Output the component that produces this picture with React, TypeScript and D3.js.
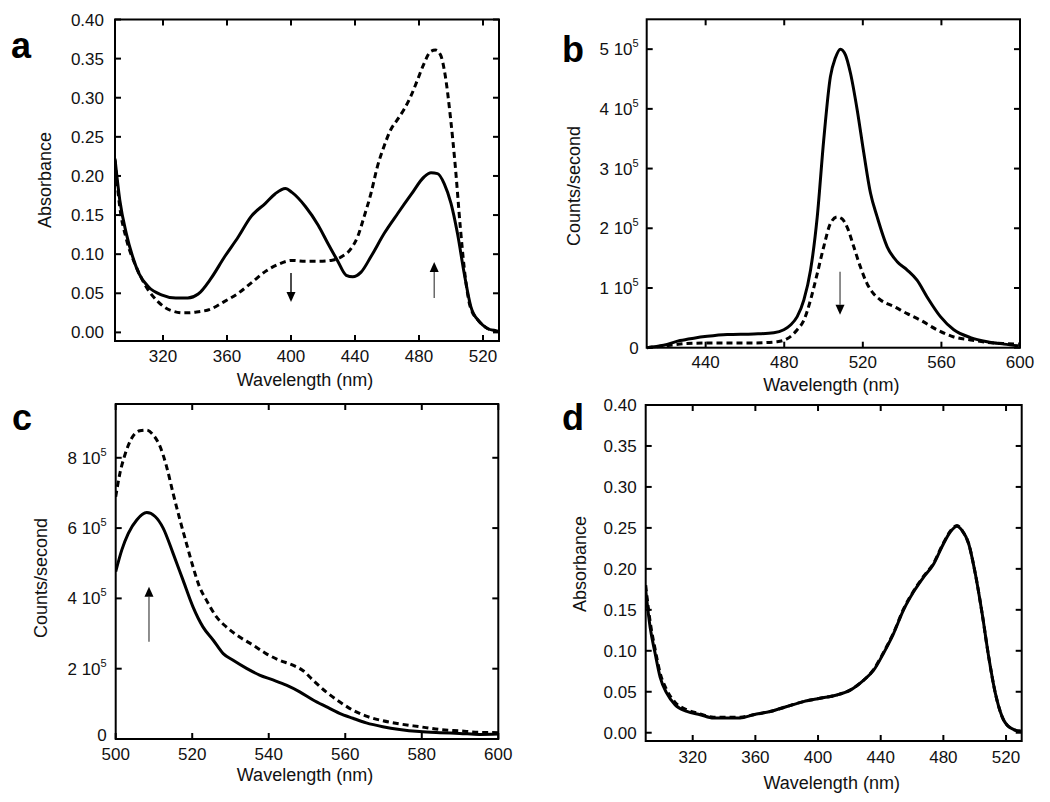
import React from "react";
import * as d3 from "d3";

// ---------- Panel a: absorbance ----------
const aSolidX = [290, 293, 297, 301, 305, 311, 319, 328, 335.5, 342, 350, 358.6, 367, 375, 384, 390, 396.5, 400.6, 409, 417, 423, 429, 434.5, 438.6, 443.8, 450, 458.4, 466.7, 475, 483.3, 487.5, 491.6, 495.8, 500, 504, 508.3, 512.4, 517.6, 522.8, 528, 530];
const aSolidY = [0.222, 0.169, 0.127, 0.097, 0.075, 0.058, 0.048, 0.044, 0.044, 0.049, 0.069, 0.097, 0.122, 0.148, 0.165, 0.177, 0.184, 0.179, 0.161, 0.137, 0.114, 0.092, 0.073, 0.071, 0.077, 0.097, 0.127, 0.152, 0.176, 0.199, 0.204, 0.203, 0.19, 0.165, 0.127, 0.075, 0.033, 0.014, 0.005, 0.002, 0.001];
const aDashX = [290, 293, 297, 303, 309, 317, 325, 333, 341, 350, 358, 367, 375, 384, 392, 400.6, 409, 417, 425, 431, 437.5, 441.6, 445.7, 449.9, 454, 458, 462.3, 466.5, 470.6, 474.7, 478.9, 483, 487.2, 490.3, 493.4, 496.5, 499.6, 502.7, 505.8, 508.9, 512, 517.6, 522.8, 528, 530];
const aDashY = [0.22, 0.16, 0.12, 0.085, 0.06, 0.039, 0.028, 0.025, 0.026, 0.03, 0.039, 0.05, 0.063, 0.078, 0.087, 0.092, 0.091, 0.091, 0.092, 0.096, 0.107, 0.122, 0.148, 0.177, 0.212, 0.237, 0.259, 0.272, 0.285, 0.301, 0.322, 0.343, 0.359, 0.361, 0.355, 0.327, 0.276, 0.212, 0.135, 0.071, 0.033, 0.014, 0.005, 0.002, 0.001];
const aXTicks = [320, 360, 400, 440, 480, 520];
const aYTicks = [0, 0.05, 0.1, 0.15, 0.2, 0.25, 0.3, 0.35, 0.4];

// ---------- Panel b: emission ----------
const bSolidX = [410, 418.6, 427, 434, 440.8, 451, 464.5, 474.7, 479.8, 483.2, 486.6, 490, 493.4, 496.8, 500.1, 503.5, 506, 508.6, 511.2, 513.7, 517.1, 520.5, 523.9, 527.3, 532.4, 537.5, 542.6, 547.6, 552.7, 559.5, 566.3, 574.8, 583.3, 591.8, 599.4];
const bSolidY = [0, 0.04, 0.12, 0.16, 0.19, 0.22, 0.23, 0.25, 0.3, 0.38, 0.52, 0.8, 1.3, 2.19, 3.48, 4.54, 4.85, 5.0, 4.9, 4.6, 3.99, 3.26, 2.59, 2.19, 1.69, 1.44, 1.3, 1.13, 0.85, 0.52, 0.3, 0.17, 0.1, 0.06, 0.03];
const bDashX = [410, 422, 430.5, 447.5, 464.5, 476.4, 481.5, 486.6, 490, 493.4, 496.8, 500.1, 503.5, 506.9, 509.4, 512, 515.4, 518.8, 522.2, 525.6, 529, 535.8, 542.6, 549.4, 557.8, 566.3, 574.8, 583.3, 591.8, 599.4];
const bDashY = [0, 0.04, 0.07, 0.08, 0.08, 0.1, 0.15, 0.3, 0.46, 0.8, 1.24, 1.69, 2.08, 2.19, 2.16, 2.02, 1.69, 1.35, 1.07, 0.9, 0.8, 0.69, 0.57, 0.46, 0.3, 0.18, 0.13, 0.09, 0.07, 0.06];
const bXTicks = [440, 480, 520, 560, 600];
const bYTicks = [0, 1, 2, 3, 4, 5];

// ---------- Panel c: emission ----------
const cSolidX = [500, 501.6, 503.3, 505.5, 508.1, 510.3, 512.4, 515, 517.6, 520.2, 522.8, 525.5, 528.1, 530.7, 534.2, 537.6, 541.1, 544.6, 548.1, 551.6, 555, 558.5, 562, 565.5, 569.8, 574.2, 579.4, 584.7, 589.9, 595.1, 600];
const cSolidY = [4.76, 5.38, 5.85, 6.23, 6.44, 6.33, 6.0, 5.28, 4.52, 3.76, 3.19, 2.81, 2.43, 2.24, 2.01, 1.82, 1.68, 1.53, 1.34, 1.11, 0.92, 0.73, 0.59, 0.46, 0.35, 0.27, 0.21, 0.18, 0.16, 0.13, 0.14];
const cDashX = [500, 501.1, 502.4, 504.2, 506.3, 508.1, 509.8, 511.6, 513.3, 515, 516.8, 518.5, 520.2, 521.9, 523.7, 526.3, 528.9, 532.4, 535.9, 539.3, 542.8, 546.3, 548.9, 551.6, 555, 558.5, 562, 565.5, 569.8, 574.2, 579.4, 584.7, 589.9, 595.1, 600];
const cDashY = [6.89, 7.56, 8.08, 8.56, 8.77, 8.79, 8.65, 8.32, 7.75, 6.99, 6.23, 5.56, 4.9, 4.33, 3.95, 3.48, 3.19, 2.9, 2.67, 2.43, 2.24, 2.1, 1.95, 1.67, 1.34, 1.06, 0.82, 0.65, 0.52, 0.43, 0.35, 0.27, 0.23, 0.19, 0.18];
const cXTicks = [500, 520, 540, 560, 580, 600];
const cYTicks = [0, 2, 4, 6, 8];

// ---------- Panel d: absorbance ----------
const dSolidX = [290, 292.8, 296, 299.2, 303.5, 308.8, 316.3, 324.8, 333.3, 341.8, 350.3, 358.8, 369.5, 380.1, 390.7, 401.3, 412, 420.5, 429, 435.4, 441.8, 448.2, 454.6, 461, 467.4, 473.8, 479.1, 484.4, 488.7, 491.9, 496.1, 500.4, 504.7, 508.9, 513.2, 517.4, 522.7, 529.1, 530];
const dSolidY = [0.174, 0.129, 0.097, 0.068, 0.048, 0.034, 0.026, 0.022, 0.018, 0.018, 0.018, 0.022, 0.026, 0.032, 0.038, 0.042, 0.046, 0.052, 0.064, 0.076, 0.097, 0.121, 0.15, 0.172, 0.19, 0.206, 0.227, 0.245, 0.252, 0.247, 0.231, 0.194, 0.146, 0.093, 0.048, 0.02, 0.006, 0.002, 0.002];
const dDashX = [290, 292.8, 296, 299.2, 303.5, 308.8, 316.3, 324.8, 333.3, 341.8, 350.3, 358.8, 369.5, 380.1, 390.7, 401.3, 412, 420.5, 429, 435.4, 441.8, 448.2, 454.6, 461, 467.4, 473.8, 479.1, 484.4, 488.7, 491.9, 496.1, 500.4, 504.7, 508.9, 513.2, 517.4, 522.7, 529.1, 530];
const dDashY = [0.18, 0.136, 0.102, 0.073, 0.052, 0.037, 0.028, 0.023, 0.019, 0.019, 0.019, 0.022, 0.026, 0.032, 0.038, 0.042, 0.046, 0.052, 0.064, 0.077, 0.098, 0.122, 0.151, 0.173, 0.191, 0.207, 0.228, 0.246, 0.253, 0.247, 0.231, 0.194, 0.146, 0.093, 0.048, 0.02, 0.006, 0.002, 0.002];
const dXTicks = [320, 360, 400, 440, 480, 520];
const dYTicks = [0, 0.05, 0.1, 0.15, 0.2, 0.25, 0.3, 0.35, 0.4];

const FONT = "'Liberation Sans', Arial, Helvetica, sans-serif";

type Arrow = { x: number; from: number; to: number; thin?: boolean };

type PanelProps = {
  letter: string;
  letterX: number;
  letterY: number;
  left: number;
  right: number;
  top: number;
  bottom: number;
  xDomain: [number, number];
  yDomain: [number, number];
  xTicks: number[];
  yTicks: number[];
  yFormat: (v: number) => React.ReactNode;
  yTitle: string;
  yTitleX: number;
  yTitleY: number;
  xTitleY: number;
  xLabelDy: number;
  yLabelGap: number;
  zeroLabelDy?: number;
  series: { x: number[]; y: number[]; dashed: boolean }[];
  arrows: Arrow[];
};

function Panel(p: PanelProps) {
  const x = d3.scaleLinear().domain(p.xDomain).range([p.left, p.right]);
  const y = d3.scaleLinear().domain(p.yDomain).range([p.bottom, p.top]);
  const line = d3
    .line<[number, number]>()
    .x((d) => x(d[0]))
    .y((d) => y(d[1]))
    .curve(d3.curveMonotoneX);
  const tl = 6;
  const cx = (p.left + p.right) / 2 - 2;
  return (
    <g>
      <defs>
        <clipPath id={"clip-" + p.letter}>
          <rect x={p.left} y={p.top - 2} width={p.right - p.left} height={p.bottom - p.top + 4} />
        </clipPath>
      </defs>
      <g clipPath={`url(#clip-${p.letter})`}>
        {p.series.map((s, i) => (
          <path
            key={i}
            d={line(s.x.map((v, j) => [v, s.y[j]] as [number, number])) || ""}
            fill="none"
            stroke="#000"
            strokeWidth={3}
            strokeDasharray={s.dashed ? "6 4" : undefined}
            strokeLinejoin="round"
          />
        ))}
      </g>
      {p.arrows.map((a, i) => {
        const ax = x(a.x);
        const y0 = y(a.from);
        const y1 = y(a.to);
        const dir = y1 > y0 ? 1 : -1;
        const h = 10;
        return (
          <g key={i}>
            <line x1={ax} x2={ax} y1={y0} y2={y1 - dir * h} stroke={a.thin ? "#444" : "#000"} strokeWidth={a.thin ? 1.2 : 1.4} />
            <polygon points={`${ax},${y1} ${ax - 4.5},${y1 - dir * h} ${ax + 4.5},${y1 - dir * h}`} fill="#000" />
          </g>
        );
      })}
      <rect x={p.left} y={p.top} width={p.right - p.left} height={p.bottom - p.top} fill="none" stroke="#000" strokeWidth={2} />
      {p.xTicks.map((t) => (
        <g key={"x" + t}>
          <line x1={x(t)} x2={x(t)} y1={p.bottom} y2={p.bottom - tl} stroke="#000" strokeWidth={2} />
          <line x1={x(t)} x2={x(t)} y1={p.top} y2={p.top + tl} stroke="#000" strokeWidth={2} />
          <text x={x(t)} y={p.bottom + p.xLabelDy} textAnchor="middle" fontSize={17} fontFamily={FONT} fill="#111">
            {t}
          </text>
        </g>
      ))}
      {p.yTicks.map((t) => (
        <g key={"y" + t}>
          <line x1={p.left} x2={p.left + tl} y1={y(t)} y2={y(t)} stroke="#000" strokeWidth={2} />
          <line x1={p.right} x2={p.right - tl} y1={y(t)} y2={y(t)} stroke="#000" strokeWidth={2} />
          <text
            x={p.left - p.yLabelGap}
            y={y(t) + (t === 0 && p.zeroLabelDy !== undefined ? p.zeroLabelDy : 6)}
            textAnchor="end"
            fontSize={17}
            fontFamily={FONT}
            fill="#111"
          >
            {p.yFormat(t)}
          </text>
        </g>
      ))}
      <text x={cx} y={p.xTitleY} textAnchor="middle" fontSize={18} fontFamily={FONT} fill="#111">
        Wavelength (nm)
      </text>
      <text
        transform={`translate(${p.yTitleX},${p.yTitleY}) rotate(-90)`}
        textAnchor="middle"
        fontSize={18}
        fontFamily={FONT}
        fill="#111"
      >
        {p.yTitle}
      </text>
      <text x={p.letterX} y={p.letterY} fontSize={36} fontWeight="bold" fontFamily={FONT} fill="#000">
        {p.letter}
      </text>
    </g>
  );
}

const fmtAbs = (v: number) => v.toFixed(2);
const fmtSci = (v: number) =>
  v === 0 ? (
    "0"
  ) : (
    <>
      {v + " 10"}
      <tspan fontSize={11} dy={-8}>
        5
      </tspan>
    </>
  );

export default function App() {
  return (
    <svg
      width={1050}
      height={802}
      viewBox="0 0 1050 802"
      style={{ position: "absolute", left: 0, top: 0, background: "#fff" }}
    >
      <rect width={1050} height={802} fill="#fff" />
      <Panel
        letter="a"
        letterX={11}
        letterY={58}
        left={115}
        right={499}
        top={19.5}
        bottom={341}
        xDomain={[290, 530]}
        yDomain={[-0.011, 0.4]}
        xTicks={aXTicks}
        yTicks={aYTicks}
        yFormat={fmtAbs}
        yTitle="Absorbance"
        yTitleX={51}
        yTitleY={180}
        xTitleY={386}
        xLabelDy={21}
        yLabelGap={11}
        series={[
          { x: aSolidX, y: aSolidY, dashed: false },
          { x: aDashX, y: aDashY, dashed: true },
        ]}
        arrows={[
          { x: 400, from: 0.076, to: 0.039 },
          { x: 489.5, from: 0.044, to: 0.09, thin: true },
        ]}
      />
      <Panel
        letter="b"
        letterX={562}
        letterY={62}
        left={646.7}
        right={1020}
        top={19.3}
        bottom={347.7}
        xDomain={[410, 600]}
        yDomain={[0, 5.5]}
        xTicks={bXTicks}
        yTicks={bYTicks}
        yFormat={fmtSci}
        yTitle="Counts/second"
        yTitleX={580}
        yTitleY={186}
        xTitleY={391}
        xLabelDy={20}
        yLabelGap={8}
        series={[
          { x: bSolidX, y: bSolidY, dashed: false },
          { x: bDashX, y: bDashY, dashed: true },
        ]}
        arrows={[{ x: 508.4, from: 1.27, to: 0.55, thin: true }]}
      />
      <Panel
        letter="c"
        letterX={12}
        letterY={430}
        left={115.7}
        right={498.3}
        top={404}
        bottom={739}
        xDomain={[500, 600]}
        yDomain={[0, 9.53]}
        xTicks={cXTicks}
        yTicks={cYTicks}
        yFormat={fmtSci}
        yTitle="Counts/second"
        yTitleX={47}
        yTitleY={578}
        xTitleY={781}
        xLabelDy={21}
        yLabelGap={9}
        zeroLabelDy={2}
        series={[
          { x: cSolidX, y: cSolidY, dashed: false },
          { x: cDashX, y: cDashY, dashed: true },
        ]}
        arrows={[{ x: 508.7, from: 2.77, to: 4.33, thin: true }]}
      />
      <Panel
        letter="d"
        letterX={562}
        letterY={430}
        left={645.7}
        right={1021.7}
        top={405}
        bottom={741}
        xDomain={[290, 530]}
        yDomain={[-0.0101, 0.4]}
        xTicks={dXTicks}
        yTicks={dYTicks}
        yFormat={fmtAbs}
        yTitle="Absorbance"
        yTitleX={586}
        yTitleY={564}
        xTitleY={789}
        xLabelDy={22}
        yLabelGap={9}
        series={[
          { x: dSolidX, y: dSolidY, dashed: false },
          { x: dDashX, y: dDashY, dashed: true },
        ]}
        arrows={[]}
      />
    </svg>
  );
}
